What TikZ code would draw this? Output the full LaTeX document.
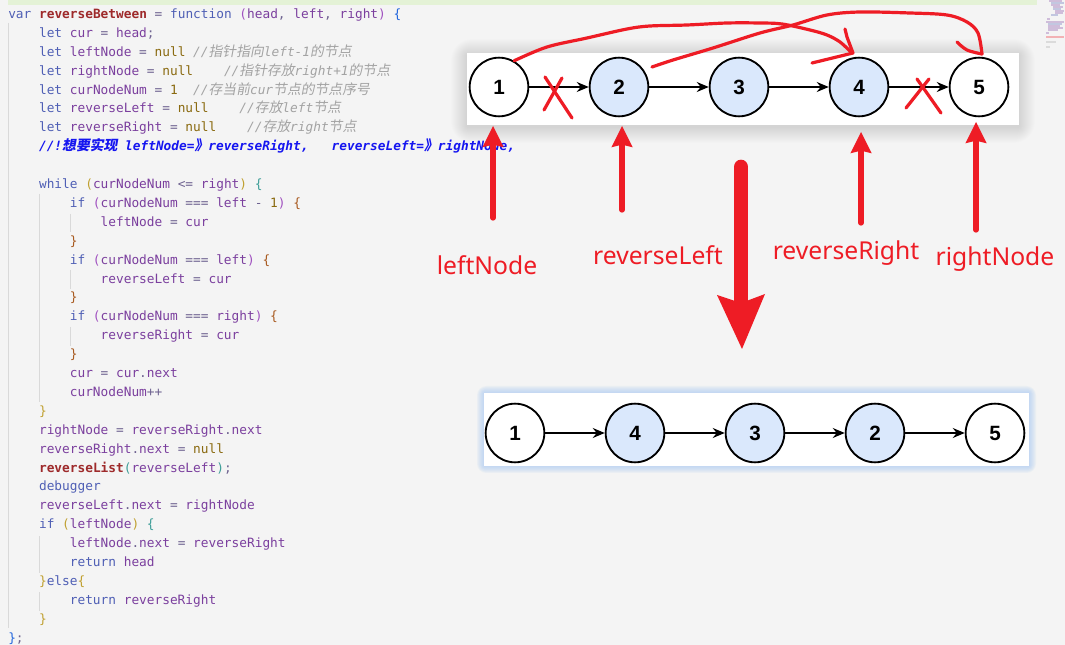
\documentclass[tikz,border=0pt]{standalone}
\usepackage{fontspec}
\setmainfont{Liberation Sans}
\setmonofont{DejaVu Sans Mono}
\newfontfamily\cjk{Noto Sans CJK SC}[FakeSlant=0.18,Scale=1.08]
\newfontfamily\labfont{Noto Sans}
\usetikzlibrary{arrows.meta}
\definecolor{bgc}{HTML}{F4F4F4}
\definecolor{band}{HTML}{E4F2D6}
\definecolor{guide}{HTML}{D9D9D9}
\definecolor{ckw}{HTML}{4F5FB5}
\definecolor{cid}{HTML}{7B3F9E}
\definecolor{cfn}{HTML}{9E2A2B}
\definecolor{cnull}{HTML}{8A6A10}
\definecolor{cop}{HTML}{6E6290}
\definecolor{ccom}{HTML}{A3A3A3}
\definecolor{cblue}{HTML}{1515F0}
\definecolor{bpu}{HTML}{A050C0}
\definecolor{bbl}{HTML}{2266DD}
\definecolor{bgo}{HTML}{C0A030}
\definecolor{bte}{HTML}{3E9E98}
\definecolor{bbr}{HTML}{A85A20}
\definecolor{annot}{HTML}{EE1C25}
\definecolor{nodeblue}{HTML}{DAE8FC}
\definecolor{glow}{HTML}{A9CAF2}
\newcommand\kwd[1]{{\color{ckw}#1}}
\newcommand\idt[1]{{\color{cid}#1}}
\newcommand\fnm[1]{{\color{cfn}\bfseries #1}}
\newcommand\nul[1]{{\color{cnull}#1}}
\newcommand\opr[1]{{\color{cop}#1}}
\newcommand\zh[1]{{\cjk\upshape #1}}
\newcommand\cmt[1]{{\color{ccom}\itshape #1}}
\newcommand\bpuc[1]{{\color{bpu}#1}}
\newcommand\bblc[1]{{\color{bbl}#1}}
\newcommand\bgoc[1]{{\color{bgo}#1}}
\newcommand\btec[1]{{\color{bte}#1}}
\newcommand\bbrc[1]{{\color{bbr}#1}}
\begin{document}
\begin{tikzpicture}[x=0.75pt,y=-0.75pt,
  codeline/.style={anchor=base west, inner sep=0pt, font=\ttfamily\fontsize{9.6}{11}\selectfont},
  lnode/.style={circle, draw=black, line width=1.4pt, minimum size=44pt, inner sep=0pt,
     font=\fontsize{15.5}{18}\selectfont\bfseries},
  wnode/.style={lnode, fill=white},
  bnode/.style={lnode, fill=nodeblue},
  link/.style={line width=1.1pt, -{Stealth[length=9pt,width=7.5pt,inset=3pt]}},
  redhand/.style={draw=annot, line width=2.4pt, line cap=round, line join=round},
  redup/.style={draw=annot, line width=4pt, -{Stealth[length=16pt,width=16pt,inset=2pt,line width=0pt]}},
  lab/.style={anchor=base, inner sep=0pt, text=annot, font=\labfont\fontsize{18.5}{22}\selectfont}]
\useasboundingbox (0,0) rectangle (1065,645);
\fill[bgc] (0,0) rectangle (1065,645);
\fill[band] (8,0) rectangle (1037,5);
% minimap
\foreach \ya/\xa/\xb/\cl in {1/1049/1062/cid,3/1051/1064/ckw,5/1051/1060/cid,7/1053/1063/cid,9/1053/1061/ckw,11/1055/1064/cid,13/1055/1063/cid,15/1051/1058/ckw,19/1047/1050/cid,22/1046/1064/cid,24/1048/1062/ckw,26/1048/1060/cid,28/1048/1063/cid,30/1048/1058/cid,33/1046/1049/cid,37/1046/1064/annot,42/1046/1056/ccom,47/1046/1050/ccom}
  \draw[\cl, opacity=0.3, line width=0.9pt] (\xa,\ya) -- (\xb,\ya);
% indent guides
\draw[guide, line width=0.8pt] (8.5,23) -- (8.5,628);
\draw[guide, line width=0.8pt] (39.5,194) -- (39.5,402);
\draw[guide, line width=0.8pt] (39.5,536) -- (39.5,573);
\draw[guide, line width=0.8pt] (39.5,592) -- (39.5,611);
\draw[guide, line width=0.8pt] (70.5,214) -- (70.5,232);
\draw[guide, line width=0.8pt] (70.5,270) -- (70.5,289);
\draw[guide, line width=0.8pt] (70.5,327) -- (70.5,346);
% code
\node[codeline] (c1) at (8,18.5) {\kwd{var} \fnm{reverseBetween} \opr{=} \kwd{function} \bpuc{(}\idt{head}\opr{,} \idt{left}\opr{,} \idt{right}\bpuc{)} \bblc{\{}};
\node[codeline] (c2) at (38.8,37.4) {\kwd{let} \idt{cur} \opr{=} \idt{head}\opr{;}};
\node[codeline] (c3) at (38.8,56.3) {\kwd{let} \idt{leftNode} \opr{=} \nul{null} \cmt{//\zh{指针指向}left-1\zh{的节点}}};
\node[codeline] (c4) at (38.8,75.2) {\kwd{let} \idt{rightNode} \opr{=} \nul{null}~~~~\cmt{//\zh{指针存放}right+1\zh{的节点}}};
\node[codeline] (c5) at (38.8,94.1) {\kwd{let} \idt{curNodeNum} \opr{=} \nul{1}~~\cmt{//\zh{存当前}cur\zh{节点的节点序号}}};
\node[codeline] (c6) at (38.8,113) {\kwd{let} \idt{reverseLeft} \opr{=} \nul{null}~~~~\cmt{//\zh{存放}left\zh{节点}}};
\node[codeline] (c7) at (38.8,131.9) {\kwd{let} \idt{reverseRight} \opr{=} \nul{null}~~~~\cmt{//\zh{存放}right\zh{节点}}};
\node[codeline] (c8) at (38.8,150.8) {{\color{cblue}\bfseries\itshape //!\zh{想要实现} leftNode=\zh{》}reverseRight,~~~reverseLeft=\zh{》}rightNode,}};
\node[codeline] (c10) at (38.8,188.6) {\kwd{while} \bgoc{(}\idt{curNodeNum} \opr{<=} \idt{right}\bgoc{)} \btec{\{}};
\node[codeline] (c11) at (69.6,207.5) {\kwd{if} \bpuc{(}\idt{curNodeNum} \opr{===} \idt{left} \opr{-} \nul{1}\bpuc{)} \bbrc{\{}};
\node[codeline] (c12) at (100.4,226.4) {\idt{leftNode} \opr{=} \idt{cur}};
\node[codeline] (c13) at (69.6,245.3) {\bbrc{\}}};
\node[codeline] (c14) at (69.6,264.2) {\kwd{if} \bpuc{(}\idt{curNodeNum} \opr{===} \idt{left}\bpuc{)} \bbrc{\{}};
\node[codeline] (c15) at (100.4,283.1) {\idt{reverseLeft} \opr{=} \idt{cur}};
\node[codeline] (c16) at (69.6,302) {\bbrc{\}}};
\node[codeline] (c17) at (69.6,320.9) {\kwd{if} \bpuc{(}\idt{curNodeNum} \opr{===} \idt{right}\bpuc{)} \bbrc{\{}};
\node[codeline] (c18) at (100.4,339.8) {\idt{reverseRight} \opr{=} \idt{cur}};
\node[codeline] (c19) at (69.6,358.7) {\bbrc{\}}};
\node[codeline] (c20) at (69.6,377.6) {\idt{cur} \opr{=} \idt{cur}\opr{.}\idt{next}};
\node[codeline] (c21) at (69.6,396.5) {\idt{curNodeNum}\opr{++}};
\node[codeline] (c22) at (38.8,415.4) {\bgoc{\}}};
\node[codeline] (c23) at (38.8,434.3) {\idt{rightNode} \opr{=} \idt{reverseRight}\opr{.}\idt{next}};
\node[codeline] (c24) at (38.8,453.2) {\idt{reverseRight}\opr{.}\idt{next} \opr{=} \nul{null}};
\node[codeline] (c25) at (38.8,472.1) {\fnm{reverseList}\btec{(}\idt{reverseLeft}\btec{)}\opr{;}};
\node[codeline] (c26) at (38.8,491) {\kwd{debugger}};
\node[codeline] (c27) at (38.8,509.9) {\idt{reverseLeft}\opr{.}\idt{next} \opr{=} \idt{rightNode}};
\node[codeline] (c28) at (38.8,528.8) {\kwd{if} \bgoc{(}\idt{leftNode}\bgoc{)} \btec{\{}};
\node[codeline] (c29) at (69.6,547.7) {\idt{leftNode}\opr{.}\idt{next} \opr{=} \idt{reverseRight}};
\node[codeline] (c30) at (69.6,566.6) {\kwd{return} \idt{head}};
\node[codeline] (c31) at (38.8,585.5) {\bgoc{\}}\kwd{else}\bgoc{\{}};
\node[codeline] (c32) at (69.6,604.4) {\kwd{return} \idt{reverseRight}};
\node[codeline] (c33) at (38.8,623.3) {\bgoc{\}}};
\node[codeline] (c34) at (8,642.2) {\bblc{\}}\opr{;}};
% top box with soft shadow
\foreach \k in {1,...,16}
  \fill[black, opacity=0.007, rounded corners=\k] (467-\k,53-\k+2) rectangle (1019+\k,125+\k+2);
\fill[white] (467,53) rectangle (1019,125);
% bottom box with blue glow
\foreach \k in {1,...,7}
  \fill[glow, opacity=0.12, rounded corners=\k] (484-\k,393-\k) rectangle (1029+\k,466+\k);
\fill[white] (484,393) rectangle (1029,466);
% top list
\node[wnode] (n1) at (499,87) {1};
\node[bnode] (n2) at (619,87) {2};
\node[bnode] (n3) at (739,87) {3};
\node[bnode] (n4) at (859,87) {4};
\node[wnode] (n5) at (979,87) {5};
\draw[link] (n1) -- (n2);
\draw[link] (n2) -- (n3);
\draw[link] (n3) -- (n4);
\draw[link] (n4) -- (n5);
% bottom list
\node[wnode] (m1) at (515,433) {1};
\node[bnode] (m4) at (635,433) {4};
\node[bnode] (m3) at (755,433) {3};
\node[bnode] (m2) at (875,433) {2};
\node[wnode] (m5) at (995,433) {5};
\draw[link] (m1) -- (m4);
\draw[link] (m4) -- (m3);
\draw[link] (m3) -- (m2);
\draw[link] (m2) -- (m5);
% hand-drawn red curves
\draw[redhand] plot[smooth, tension=0.55] coordinates {(n1.60) (547,47) (587,38) (627,29) (650,26) (687,25) (727,23) (760,23) (782,24) (810,30) (827,35) (840,42) (852,53)};
\draw[redhand] (845,29) -- (847,37) -- (853,53) -- (812,63);
\draw[redhand] plot[smooth, tension=0.55] coordinates {(652,67) (673,60) (713,48) (760,33) (793,25) (827,15) (860,12) (910,13) (947,15) (967,22) (978,33) (982,54)};
\draw[redhand] plot[smooth, tension=0.6] coordinates {(957,42) (967,50) (982,54)};
% crosses
\draw[redhand] (545,77) -- (572,118);
\draw[redhand] (562,78) -- (544,110);
\draw[redhand] (906,108) -- (929,79);
\draw[redhand] (917,79) -- (941,113);
% pointer arrows and labels
\coordinate (pa) at (493,218); \coordinate (ta) at (493,126);
\coordinate (pb) at (622,210); \coordinate (tb) at (622,126);
\coordinate (pc) at (861,223); \coordinate (tc) at (861,132);
\coordinate (pd) at (976,230); \coordinate (td) at (976,122);
\draw[redup, line cap=round] (pa) -- (ta);
\draw[redup, line cap=round] (pb) -- (tb);
\draw[redup, line cap=round] (pc) -- (tc);
\draw[redup, line cap=round] (pd) -- (td);
\node[lab] (la) at (487,275) {leftNode};
\node[lab] (lb) at (658,265) {reverseLeft};
\node[lab] (lc) at (846,260) {reverseRight};
\node[lab] (ld) at (995,266) {rightNode};
% big down arrow
\coordinate (bigtop) at (741,167);
\coordinate (bigbot) at (741,300);
\draw[annot, line width=11pt, line cap=round] (bigtop) -- (bigbot);
\fill[annot] (717,295) -- (741,303) -- (765,294) -- (742,349) -- cycle;
\end{tikzpicture}
\end{document}
